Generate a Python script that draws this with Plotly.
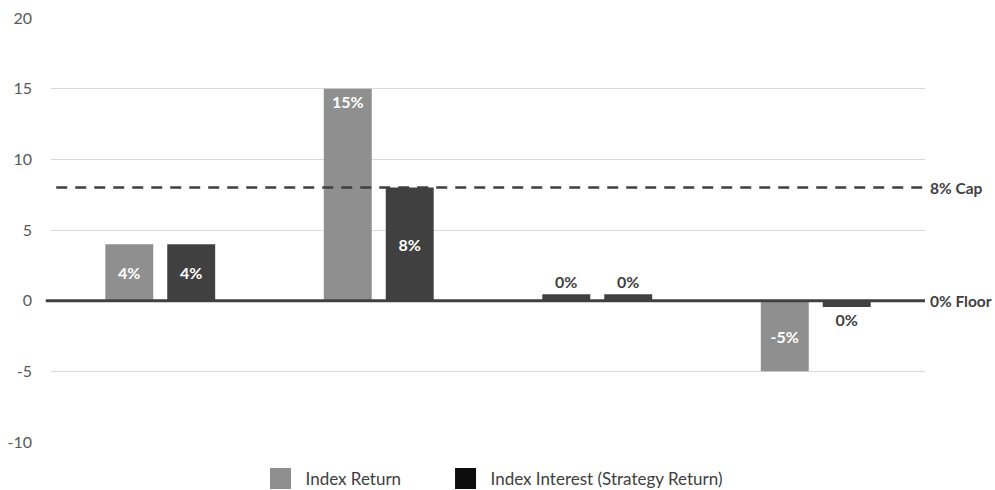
import plotly.graph_objects as go

# Four illustrative years of an indexed strategy with a cap and a floor
years = [1, 2, 3, 4]
index_return = [4, 15, 0.45, -5]
index_interest = [4, 8, 0.45, -0.45]
cap_level = 8
floor_level = 0

series_names = ["Index Return", "Index Interest (Strategy Return)"]
y_ticks = [-10, -5, 0, 5, 10, 15, 20]

GRAY = "#8f8f8f"
DARK = "#404040"
LEGEND_DARK = "#0d0d0d"
FONT = "Lato, Calibri, 'Open Sans', sans-serif"


def pct_labels(values):
    return [f"{int(round(v))}%" for v in values]


# year 3 return is shown in the darker shade
return_colors = [GRAY, GRAY, DARK, GRAY]
return_labels = pct_labels(index_return)

label_in = dict(color="white", size=16, family=FONT, weight="bold")
label_out = dict(color=DARK, size=16, family=FONT, weight="bold")
side_label = dict(color=DARK, size=15.5, family=FONT, weight="bold")

fig = go.Figure()

# tall bars (above the cap) carry their label near the top, the rest centred
tall = [v > cap_level for v in index_return]
for is_tall in (False, True):
    idx = [i for i, t in enumerate(tall) if t == is_tall]
    fig.add_trace(go.Bar(
        x=[years[i] for i in idx], y=[index_return[i] for i in idx],
        name=series_names[0], showlegend=False, offsetgroup="return",
        marker=dict(color=[return_colors[i] for i in idx], line=dict(width=0)),
        text=[return_labels[i] for i in idx], textposition="auto",
        insidetextanchor="end" if is_tall else "middle",
        insidetextfont=label_in, outsidetextfont=label_out,
        constraintext="none", cliponaxis=False,
    ))

fig.add_trace(go.Bar(
    x=years, y=index_interest, name=series_names[1], showlegend=False,
    offsetgroup="interest",
    marker=dict(color=DARK, line=dict(width=0)),
    text=pct_labels(index_interest), textposition="auto",
    insidetextanchor="middle", insidetextfont=label_in,
    outsidetextfont=label_out, constraintext="none", cliponaxis=False,
))

# legend entries with large square swatches, one legend box per series
for name, col, lg in zip(series_names, [GRAY, LEGEND_DARK], ["legend", "legend2"]):
    fig.add_trace(go.Scatter(
        x=[None], y=[None], mode="markers", name=name, legend=lg,
        marker=dict(symbol="square", size=16, color=col,
                    line=dict(color=col, width=5)),
        hoverinfo="skip",
    ))

# cap (dashed) and floor (solid) reference lines
fig.add_shape(type="line", xref="paper", yref="y", x0=0.006, x1=1,
              y0=cap_level, y1=cap_level, layer="above",
              line=dict(color=DARK, width=2.5, dash="11px,8px"))
fig.add_shape(type="line", xref="paper", yref="y", x0=-0.006, x1=1,
              y0=floor_level, y1=floor_level, layer="above",
              line=dict(color=DARK, width=3))

fig.add_annotation(xref="paper", yref="y", x=1.004, y=cap_level,
                   text=f"{cap_level}% Cap", showarrow=False,
                   xanchor="left", yanchor="middle", font=side_label)
fig.add_annotation(xref="paper", yref="y", x=1.004, y=floor_level,
                   text=f"{floor_level}% Floor", showarrow=False,
                   xanchor="left", yanchor="middle", font=side_label)

legend_style = dict(orientation="h", y=-0.087, yanchor="middle",
                    xanchor="left", itemwidth=40,
                    font=dict(size=17, color="#404040", family=FONT),
                    bgcolor="rgba(0,0,0,0)", borderwidth=0)

fig.update_layout(
    width=995, height=490,
    margin=dict(l=51, r=70, t=18, b=48, autoexpand=False),
    paper_bgcolor="white", plot_bgcolor="white",
    barmode="group", bargap=0.433, bargroupgap=0.226,
    font=dict(family=FONT, color="#595959", size=15),
    showlegend=True,
    legend=dict(x=0.234, **legend_style),
    legend2=dict(x=0.4457, **legend_style),
    xaxis=dict(range=[0.5, 4.5], showticklabels=False, showgrid=False,
               zeroline=False, showline=False, ticks=""),
    yaxis=dict(range=[-10, 20], tickvals=y_ticks,
               ticktext=[str(v) for v in y_ticks], showgrid=True,
               gridcolor="#d9d9d9", gridwidth=1, zeroline=False,
               showline=False, ticks="", ticklabelstandoff=18,
               tickfont=dict(size=16, color="#595959")),
)

fig.write_html("out.html")
